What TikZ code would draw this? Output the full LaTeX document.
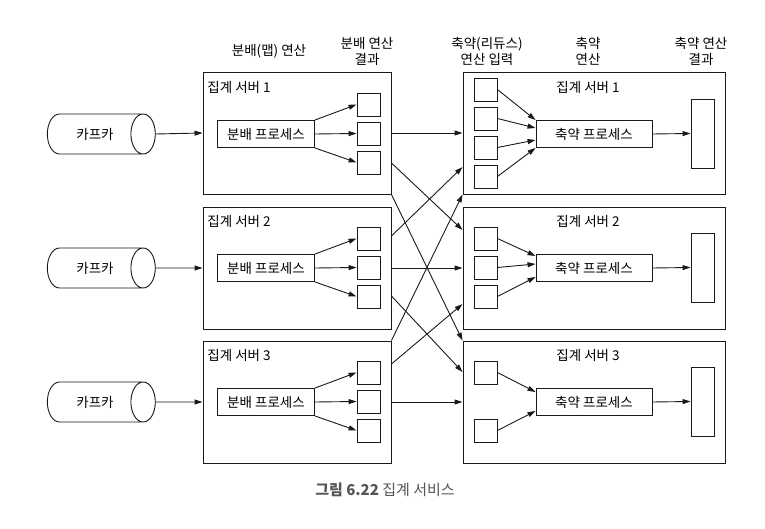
\documentclass[tikz,border=0pt]{standalone}
\usepackage{fontspec}
\setmainfont{Noto Sans CJK KR}
\usepackage{xcolor}
\definecolor{mLine}{HTML}{1A1A1A}
\definecolor{mCap}{HTML}{555555}
\usetikzlibrary{positioning,arrows.meta,calc,shapes.geometric}

\begin{document}
\begin{tikzpicture}[x=1pt, y=-1pt, font=\fontsize{13.5}{16}\selectfont,
  every path/.style={line width=0.9pt},
  arr/.style={draw=mLine, -{Triangle[length=8pt,width=5pt]}},
  kafka/.style={cylinder, draw=mLine, aspect=2, minimum height=108pt, minimum width=40pt, inner sep=0pt},
  srvbox/.style={draw=mLine, minimum width=188pt, minimum height=122pt, inner sep=0pt},
  redsrv/.style={draw=mLine, minimum width=262pt, minimum height=122pt, inner sep=0pt},
  procbox/.style={draw=mLine, minimum height=27pt, inner sep=0pt},
  sqbox/.style={draw=mLine, minimum width=23pt, minimum height=23pt, inner sep=0pt},
  outbox/.style={draw=mLine, minimum width=23pt, minimum height=69pt, inner sep=0pt},
  hd/.style={align=center, inner sep=0pt}]
\useasboundingbox (0,0) rectangle (765,529);

\node[hd] (hmap) at (269,51) {분배(맵) 연산};
\node[hd] (hmapout) at (367,51) {분배 연산\\결과};
\node[hd] (hredin) at (487,51) {축약(리듀스)\\연산 입력};
\node[hd] (hred) at (588,51) {축약\\연산};
\node[hd] (hredout) at (701,51) {축약 연산\\결과};

\node[kafka] (k1) at (95,134) {카프카};
\node[kafka] (k2) at (95,268) {카프카};
\node[kafka] (k3) at (95,402) {카프카};

\node[srvbox] (l1) at (297,133) {};
\node[srvbox] (l2) at (297,268) {};
\node[srvbox] (l3) at (297,402) {};
\node[anchor=west, inner sep=0pt] (lt1) at (207,87) {집계 서버 1};
\node[anchor=west, inner sep=0pt] (lt2) at (207,221) {집계 서버 2};
\node[anchor=west, inner sep=0pt] (lt3) at (207,355) {집계 서버 3};

\node[procbox, minimum width=97pt] (m1) at (266,134) {분배 프로세스};
\node[procbox, minimum width=97pt] (m2) at (266,268) {분배 프로세스};
\node[procbox, minimum width=97pt] (m3) at (266,402) {분배 프로세스};

\node[sqbox] (a11) at (368.5,104.5) {};
\node[sqbox] (a12) at (368.5,133.5) {};
\node[sqbox] (a13) at (368.5,162.5) {};
\node[sqbox] (a21) at (368.5,238.5) {};
\node[sqbox] (a22) at (368.5,267.5) {};
\node[sqbox] (a23) at (368.5,296.5) {};
\node[sqbox] (a31) at (368.5,372.5) {};
\node[sqbox] (a32) at (368.5,401.5) {};
\node[sqbox] (a33) at (368.5,430.5) {};

\node[redsrv] (r1) at (594,133) {};
\node[redsrv] (r2) at (594,268) {};
\node[redsrv] (r3) at (594,402) {};
\node[inner sep=0pt] (rt1) at (588,87) {집계 서버 1};
\node[inner sep=0pt] (rt2) at (588,221) {집계 서버 2};
\node[inner sep=0pt] (rt3) at (588,355) {집계 서버 3};

\node[sqbox] (b11) at (485.5,89.5) {};
\node[sqbox] (b12) at (485.5,118.5) {};
\node[sqbox] (b13) at (485.5,147.5) {};
\node[sqbox] (b14) at (485.5,176.5) {};
\node[sqbox] (b21) at (485.5,238.5) {};
\node[sqbox] (b22) at (485.5,267.5) {};
\node[sqbox] (b23) at (485.5,296.5) {};
\node[sqbox] (b31) at (485.5,372.5) {};
\node[sqbox] (b32) at (485.5,430.5) {};

\node[procbox, minimum width=116pt] (p1) at (594,134) {축약 프로세스};
\node[procbox, minimum width=116pt] (p2) at (594,268) {축약 프로세스};
\node[procbox, minimum width=116pt] (p3) at (594,402) {축약 프로세스};

\node[outbox] (o1) at (702.5,133.5) {};
\node[outbox] (o2) at (702.5,267.5) {};
\node[outbox] (o3) at (702.5,401.5) {};

\node[inner sep=0pt, text=mCap, font=\fontsize{15}{18}\selectfont] (cap) at (385,490) {\textbf{그림 6.22} 집계 서비스};

\draw[arr] (k1.east) -- (l1.west);
\draw[arr] (k2.east) -- (l2.west);
\draw[arr] (k3.east) -- (l3.west);

\draw[arr] (m1.north east) -- (a11.west);
\draw[arr] (m1.east) -- (a12.west);
\draw[arr] (m1.south east) -- (a13.west);
\draw[arr] (m2.north east) -- (a21.west);
\draw[arr] (m2.east) -- (a22.west);
\draw[arr] (m2.south east) -- (a23.west);
\draw[arr] (m3.north east) -- (a31.west);
\draw[arr] (m3.east) -- (a32.west);
\draw[arr] (m3.south east) -- (a33.west);

\draw[arr] (l1.east) -- (r1.west);
\draw[arr] ($(l1.east)+(0,30)$) -- ($(r2.west)+(0,-38)$);
\draw[arr] (l1.south east) -- (r3.north west);
\draw[arr] ($(l2.east)+(0,-32)$) -- ($(r1.west)+(0,34)$);
\draw[arr] (l2.east) -- (r2.west);
\draw[arr] ($(l2.east)+(0,28)$) -- ($(r3.west)+(0,-30)$);
\draw[arr] (l3.north east) -- (r1.south west);
\draw[arr] ($(l3.east)+(0,-38)$) -- ($(r2.west)+(0,36)$);
\draw[arr] (l3.east) -- (r3.west);

\draw[arr] (b11.east) -- (p1.north west);
\draw[arr] (b12.east) -- ($(p1.west)+(0,-6)$);
\draw[arr] (b13.east) -- ($(p1.west)+(0,6)$);
\draw[arr] (b14.east) -- (p1.south west);
\draw[arr] (b21.east) -- ($(p2.west)+(0,-12)$);
\draw[arr] (b22.east) -- ($(p2.west)+(0,-4)$);
\draw[arr] (b23.east) -- ($(p2.west)+(0,9)$);
\draw[arr] (b31.east) -- ($(p3.west)+(0,-10)$);
\draw[arr] (b32.east) -- ($(p3.west)+(0,9)$);

\draw[arr] (p1.east) -- (o1.west);
\draw[arr] (p2.east) -- (o2.west);
\draw[arr] (p3.east) -- (o3.west);
\end{tikzpicture}
\end{document}
